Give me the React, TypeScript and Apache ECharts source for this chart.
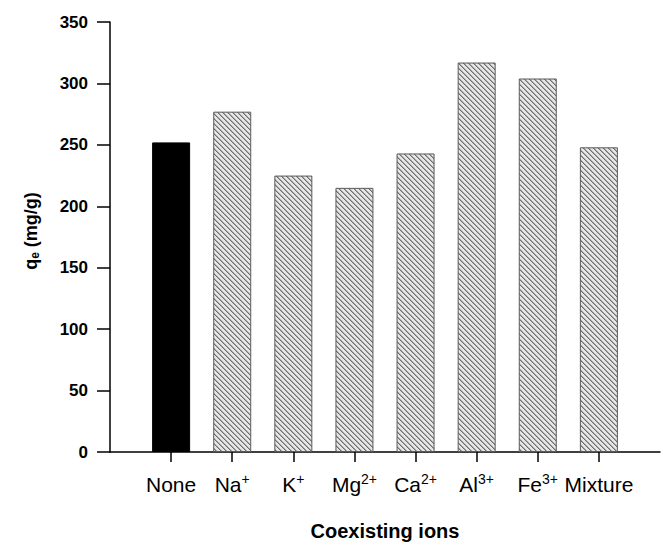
import React, { useEffect, useRef } from "react";
import * as echarts from "echarts";

const categories = ["None", "Na+", "K+", "Mg2+", "Ca2+", "Al3+", "Fe3+", "Mixture"];
const labelBase = ["None", "Na", "K", "Mg", "Ca", "Al", "Fe", "Mixture"];
const labelSup = ["", "+", "+", "2+", "2+", "3+", "3+", ""];
const values = [252, 277, 225, 215, 243, 317, 304, 248];
const yMin = 0;
const yMax = 350;
const yInterval = 50;

const FONT = "'Liberation Sans', Arial, sans-serif";

function makeHatch(): string {
  const c = document.createElement("canvas");
  c.width = 5;
  c.height = 5;
  const ctx = c.getContext("2d")!;
  ctx.fillStyle = "#e6e6e6";
  ctx.fillRect(0, 0, 5, 5);
  for (let i = 0; i < 5; i++) {
    ctx.fillStyle = "#6e6e6e";
    ctx.fillRect(i, i, 1, 1);
    ctx.fillStyle = "#a8a8a8";
    ctx.fillRect((i + 1) % 5, i, 1, 1);
  }
  return c.toDataURL();
}

export default function App() {
  const ref = useRef<HTMLDivElement>(null);
  useEffect(() => {
    if (!ref.current) return;
    const chart = echarts.init(ref.current, null, { renderer: "svg" });
    const hatch = makeHatch();
    const padded = ["__pad0", ...categories, "__pad1"];
    const data = padded.map((c, i) => {
      if (i === 0 || i === padded.length - 1) return "-";
      const v = values[i - 1];
      if (i === 1) {
        return { value: v, itemStyle: { color: "#000", borderColor: "#000", borderWidth: 1 } };
      }
      return {
        value: v,
        itemStyle: {
          color: { image: hatch, repeat: "repeat", imageWidth: 5, imageHeight: 5 },
          borderColor: "#5a5a5a",
          borderWidth: 1,
        },
      };
    });
    const option: any = {
      animation: false,
      backgroundColor: "#fff",
      grid: { left: 110, top: 22, width: 558, height: 438, containLabel: false },
      graphic: [
        {
          type: "text",
          x: 31,
          y: 231,
          rotation: Math.PI / 2,
          style: {
            text: "{q|q}{e|e}{r| (mg/g)}",
            align: "center",
            verticalAlign: "middle",
            fill: "#000",
            font: `bold 18px ${FONT}`,
            rich: {
              q: { fontSize: 18, fontWeight: "bold", fontFamily: FONT, fill: "#000", lineHeight: 20 },
              e: { fontSize: 12, fontWeight: "bold", fontFamily: FONT, fill: "#000", verticalAlign: "bottom", lineHeight: 12 },
              r: { fontSize: 18, fontWeight: "bold", fontFamily: FONT, fill: "#000", lineHeight: 20 },
            },
          },
        },
      ],
      xAxis: {
        type: "category",
        boundaryGap: false,
        data: padded,
        axisLine: { show: true, lineStyle: { color: "#000", width: 1.5 } },
        axisTick: {
          show: true,
          length: 10,
          interval: (i: number) => i > 0 && i < padded.length - 1,
          lineStyle: { color: "#000", width: 1.5 },
        },
        axisLabel: {
          interval: 0,
          margin: 20,
          formatter: (_v: string, i: number) => {
            if (i === 0 || i === padded.length - 1) return "";
            const b = labelBase[i - 1];
            const s = labelSup[i - 1];
            return s ? `{b|${b}}{s|${s}}` : `{b|${b}}`;
          },
          fontSize: 20,
          fontFamily: FONT,
          color: "#000",
          rich: {
            b: { fontSize: 21, fontFamily: FONT, color: "#000", lineHeight: 24 },
            s: { fontSize: 14, fontFamily: FONT, color: "#000", verticalAlign: "top", lineHeight: 12 },
          },
        },
        name: "Coexisting ions",
        nameLocation: "middle",
        nameGap: 69,
        nameTextStyle: { fontSize: 20, fontWeight: "bold", fontFamily: FONT, color: "#000" },
        splitLine: { show: false },
      },
      yAxis: {
        type: "value",
        min: yMin,
        max: yMax,
        interval: yInterval,
        axisLine: { show: true, lineStyle: { color: "#000", width: 1.5 } },
        axisTick: { show: true, length: 13, lineStyle: { color: "#000", width: 1.5 } },
        axisLabel: { fontSize: 17, fontWeight: "bold", fontFamily: FONT, color: "#000", margin: 22 },
        splitLine: { show: false },
      },
      series: [
        {
          type: "bar",
          barWidth: 38,
          data,
        },
      ],
    };
    chart.setOption(option);
    return () => chart.dispose();
  }, []);
  return (
    <div
      ref={ref}
      style={{ position: "fixed", left: 0, top: 0, width: 663, height: 546, background: "#fff" }}
    />
  );
}
